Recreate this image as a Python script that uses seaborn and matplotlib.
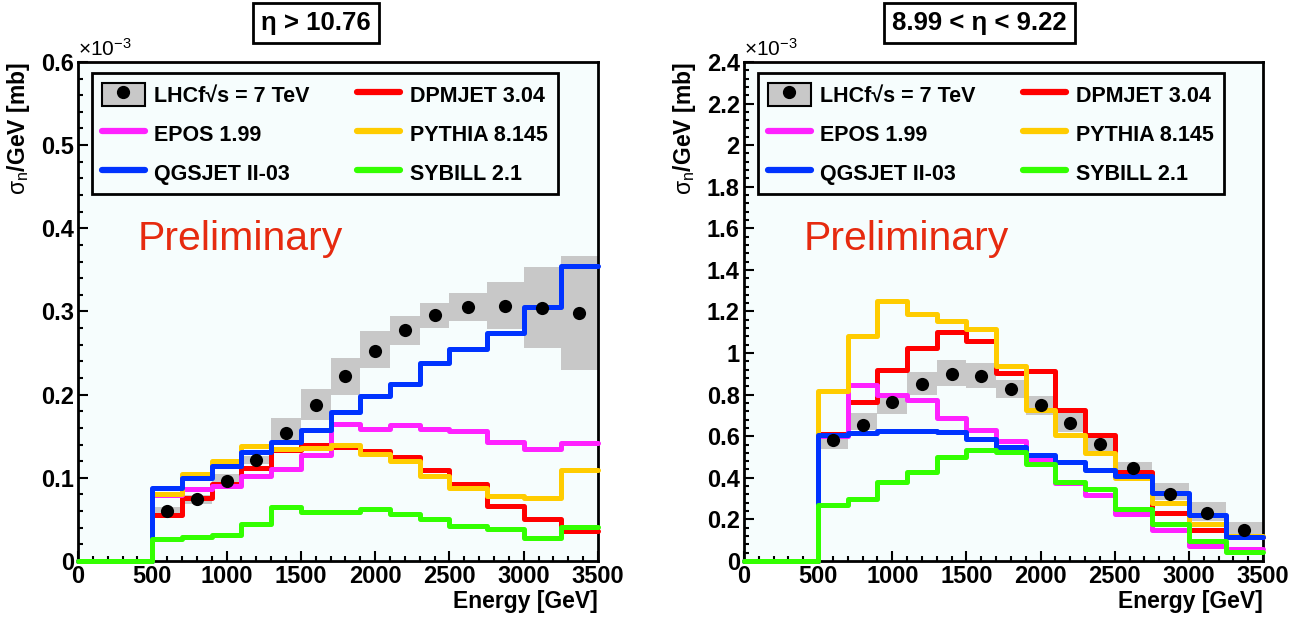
import matplotlib
matplotlib.use('Agg')
import matplotlib.pyplot as plt
from matplotlib.lines import Line2D
from matplotlib.patches import Patch
from matplotlib.ticker import MultipleLocator, FuncFormatter
import numpy as np
import pandas as pd
import seaborn as sns

# bin edges in GeV, the first bin (0-500) is empty
edges = [0, 500, 700, 900, 1100, 1300, 1500, 1700, 1900, 2100, 2300,
         2500, 2750, 3000, 3250, 3500]
models = ['DPMJET 3.04', 'EPOS 1.99', 'PYTHIA 8.145', 'QGSJET II-03',
          'SYBILL 2.1']
colors = ['#ff0000', '#ff22ff', '#ffcc00', '#0033ff', '#33ff00']

# eta > 10.76, values in units of 1e-3 mb/GeV
left_title = 'η > 10.76'
left_data = [0.060, 0.074, 0.096, 0.122, 0.154, 0.188, 0.223, 0.253, 0.278,
             0.296, 0.305, 0.307, 0.304, 0.298]
left_lo = [0.054, 0.069, 0.090, 0.116, 0.145, 0.169, 0.200, 0.232, 0.260,
           0.280, 0.288, 0.279, 0.256, 0.230]
left_hi = [0.065, 0.079, 0.105, 0.126, 0.172, 0.207, 0.244, 0.277, 0.295,
           0.310, 0.322, 0.335, 0.353, 0.367]
left_dpmjet = [0, 0.055, 0.076, 0.093, 0.112, 0.133, 0.140, 0.137, 0.132,
               0.125, 0.109, 0.092, 0.066, 0.051, 0.036]
left_epos = [0, 0.079, 0.087, 0.090, 0.102, 0.110, 0.127, 0.165, 0.159,
             0.163, 0.159, 0.156, 0.143, 0.135, 0.142]
left_pythia = [0, 0.080, 0.104, 0.120, 0.138, 0.135, 0.136, 0.139, 0.129,
               0.120, 0.102, 0.088, 0.078, 0.076, 0.109]
left_qgsjet = [0, 0.088, 0.100, 0.114, 0.131, 0.143, 0.158, 0.179, 0.198,
               0.213, 0.238, 0.255, 0.274, 0.305, 0.355]
left_sybill = [0, 0.027, 0.029, 0.031, 0.045, 0.065, 0.059, 0.059, 0.062,
               0.056, 0.051, 0.042, 0.038, 0.028, 0.041]

# 8.99 < eta < 9.22
right_title = '8.99 < η < 9.22'
right_data = [0.580, 0.655, 0.763, 0.853, 0.900, 0.890, 0.829, 0.752, 0.663,
              0.564, 0.447, 0.323, 0.233, 0.149]
right_lo = [0.540, 0.630, 0.707, 0.800, 0.840, 0.832, 0.784, 0.703, 0.618,
            0.527, 0.414, 0.294, 0.193, 0.117]
right_hi = [0.615, 0.710, 0.808, 0.910, 0.965, 0.953, 0.872, 0.792, 0.712,
            0.607, 0.474, 0.377, 0.286, 0.186]
right_dpmjet = [0, 0.610, 0.765, 0.920, 1.025, 1.102, 1.060, 0.904, 0.916,
                0.728, 0.604, 0.430, 0.233, 0.148, 0.115]
right_epos = [0, 0.600, 0.848, 0.800, 0.776, 0.687, 0.628, 0.575, 0.487,
              0.377, 0.318, 0.228, 0.149, 0.072, 0.060]
right_pythia = [0, 0.816, 1.081, 1.250, 1.190, 1.153, 1.117, 0.937, 0.728,
                0.607, 0.519, 0.400, 0.281, 0.180, 0.118]
right_qgsjet = [0, 0.604, 0.615, 0.626, 0.626, 0.620, 0.588, 0.548, 0.508,
                0.477, 0.439, 0.410, 0.327, 0.222, 0.117]
right_sybill = [0, 0.267, 0.297, 0.382, 0.427, 0.500, 0.535, 0.524, 0.467,
                0.382, 0.347, 0.249, 0.177, 0.096, 0.044]

BG = '#f6fdfd'


def model_frame(curves):
    '''long table of step curves, last value repeated at the last edge'''
    rows = []
    for name, vals in zip(models, curves):
        ys = list(vals) + [vals[-1]]
        for x, y in zip(edges, ys):
            rows.append({'energy': x, 'xsec': y, 'model': name})
    return pd.DataFrame(rows)


def draw_panel(ax, curves, data, lo, hi, ymax, ymajor, title, title_x):
    e = np.array(edges[1:], dtype=float)
    centers = (e[:-1] + e[1:]) / 2
    widths = e[1:] - e[:-1]
    lo = np.array(lo)
    hi = np.array(hi)

    ax.set_facecolor(BG)
    ax.bar(centers, hi - lo, width=widths, bottom=lo, color='#c8c8c8',
           linewidth=0, zorder=1)
    sns.lineplot(data=model_frame(curves), x='energy', y='xsec',
                 hue='model', hue_order=models, palette=colors,
                 drawstyle='steps-post', lw=3.6, estimator=None, sort=False,
                 legend=False, ax=ax, zorder=3, clip_on=False)
    sns.scatterplot(x=centers, y=data, color='black', s=90, linewidth=0,
                    ax=ax, zorder=4)

    ax.set_xlim(0, 3500)
    ax.set_ylim(0, ymax)
    ax.xaxis.set_major_locator(MultipleLocator(500))
    ax.xaxis.set_minor_locator(MultipleLocator(100))
    ax.yaxis.set_major_locator(MultipleLocator(ymajor))
    ax.yaxis.set_minor_locator(MultipleLocator(ymajor / 5))
    ax.yaxis.set_major_formatter(FuncFormatter(lambda v, p: '%g' % round(v, 3)))
    ax.tick_params(which='both', direction='in', top=False, right=False,
                   width=1.5, labelsize=17, pad=3)
    ax.tick_params(which='major', length=7)
    ax.tick_params(which='minor', length=3.5)
    for lab in ax.get_xticklabels() + ax.get_yticklabels():
        lab.set_fontweight('bold')
    for sp in ax.spines.values():
        sp.set_visible(True)
        sp.set_linewidth(2)

    ax.set_xlabel('Energy [GeV]', loc='right', fontsize=16.5,
                  fontweight='bold', labelpad=1)
    ax.set_ylabel(r'$\sigma_{n}$/GeV [mb]', loc='top', fontsize=16.5,
                  fontweight='bold', labelpad=6)
    ax.text(0.0, 1.005, r'$\times10^{-3}$', transform=ax.transAxes,
            fontsize=15, fontweight='normal', ha='left', va='bottom')
    ax.text(0.115, 0.645, 'Preliminary', transform=ax.transAxes,
            fontsize=29.5, fontweight='normal', color='#e62a0f', va='center')

    handles = [
        (Patch(facecolor='#c8c8c8', edgecolor='black', linewidth=1.5),
         Line2D([], [], marker='o', color='black', ls='', markersize=8.5)),
    ]
    for name, c in zip(models, colors):
        handles.append(Line2D([], [], color=c, lw=4.5))
    labels = ['LHCf√s = 7 TeV'] + models
    order = [0, 2, 4, 1, 3, 5]
    leg = ax.legend([handles[i] for i in order], [labels[i] for i in order],
                    ncol=2, loc='upper left', bbox_to_anchor=(0.027, 0.978),
                    borderaxespad=0, fontsize=15.5, handlelength=2.0,
                    handleheight=1.3, handletextpad=0.45, columnspacing=2.2,
                    labelspacing=0.7, borderpad=0.45, fancybox=False,
                    framealpha=1, facecolor=BG, edgecolor='black')
    leg.get_frame().set_linewidth(2)
    for t in leg.get_texts():
        t.set_fontweight('bold')

    ax.figure.text(title_x, 0.9627, title, ha='center', va='center',
                   fontsize=18.5, fontweight='bold',
                   bbox=dict(boxstyle='square,pad=0.33', fc='white',
                             ec='black', lw=2))


def main():
    sns.set_theme(style='ticks', rc={'axes.edgecolor': 'black',
                                     'text.color': 'black',
                                     'axes.labelcolor': 'black',
                                     'xtick.color': 'black',
                                     'ytick.color': 'black'})
    plt.rcParams['font.family'] = ['Liberation Sans', 'DejaVu Sans']
    plt.rcParams['mathtext.fontset'] = 'custom'
    plt.rcParams['mathtext.rm'] = 'Liberation Sans'
    plt.rcParams['mathtext.default'] = 'rm'

    fig = plt.figure(figsize=(13.08, 6.17), dpi=100)
    ax1 = fig.add_axes([0.0596, 0.0908, 0.3976, 0.8088])
    ax2 = fig.add_axes([0.5688, 0.0908, 0.3968, 0.8088])

    draw_panel(ax1, [left_dpmjet, left_epos, left_pythia, left_qgsjet,
                     left_sybill],
               left_data, left_lo, left_hi, 0.6, 0.1, left_title, 0.2416)
    draw_panel(ax2, [right_dpmjet, right_epos, right_pythia, right_qgsjet,
                     right_sybill],
               right_data, right_lo, right_hi, 2.4, 0.2, right_title, 0.749)

    fig.savefig('out.png', dpi=100)


if __name__ == '__main__':
    main()
